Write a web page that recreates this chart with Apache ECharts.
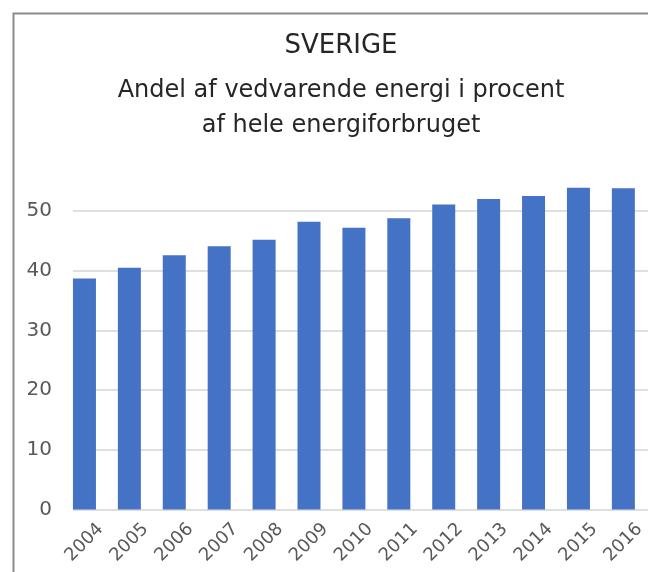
<!DOCTYPE html>
<html>
<head>
<meta charset="utf-8">
<script src="https://cdn.jsdelivr.net/npm/echarts@6/dist/echarts.min.js"></script>
<style>
  html, body { margin: 0; padding: 0; background: #fff; }
  #chart { width: 648px; height: 572px; }
</style>
</head>
<body>
<div id="chart"></div>
<script>
// data
const years = ["2004", "2005", "2006", "2007", "2008", "2009", "2010",
  "2011", "2012", "2013", "2014", "2015", "2016"];
const andel = [38.7, 40.5, 42.6, 44.1, 45.2, 48.2, 47.2, 48.8, 51.1, 52.0, 52.5, 53.9, 53.8];
const yTicks = [0, 10, 20, 30, 40, 50];

const font = "DejaVu Sans";
const chart = echarts.init(document.getElementById("chart"));

let option = {
  animation: false,
  title: [
    {
      text: "SVERIGE",
      left: 336,
      top: 26,
      textAlign: "center",
      textStyle: { fontFamily: font, fontSize: 26, fontWeight: "normal", color: "#262626", lineHeight: 30 }
    },
    {
      text: "Andel af vedvarende energi i procent\naf hele energiforbruget",
      left: 336,
      top: 68,
      textAlign: "center",
      textStyle: { fontFamily: font, fontSize: 24, fontWeight: "normal", color: "#262626", lineHeight: 35 }
    }
  ],
  // outer frame of the chart box
  graphic: [
    {
      type: "rect",
      left: 11,
      top: 11,
      shape: { width: 700, height: 700 },
      style: { fill: "none", stroke: "#8c8c8c", lineWidth: 2 },
      z: 10
    }
  ],
  grid: [
    // bars
    { left: 62, right: 1, top: 211, bottom: 62.5 },
    // gridlines (start at the first bar like the original)
    { left: 73, right: 0, top: 211, bottom: 62.5 }
  ],
  xAxis: [
    {
      type: "category",
      gridIndex: 0,
      data: years,
      axisLine: { show: false },
      axisTick: { show: false },
      axisLabel: {
        rotate: 45,
        align: "center",
        verticalAlign: "middle",
        margin: 33,
        fontFamily: font,
        fontSize: 18,
        color: "#595959"
      }
    },
    { type: "value", gridIndex: 1, min: 0, max: 1, show: false }
  ],
  yAxis: [
    {
      type: "value",
      gridIndex: 0,
      min: yTicks[0],
      max: yTicks[yTicks.length - 1],
      interval: 10,
      axisLine: { show: false },
      axisTick: { show: false },
      splitLine: { show: false },
      axisLabel: { margin: 10, fontFamily: font, fontSize: 20, color: "#595959" }
    },
    {
      type: "value",
      gridIndex: 1,
      min: yTicks[0],
      max: yTicks[yTicks.length - 1],
      interval: 10,
      axisLine: { show: false },
      axisTick: { show: false },
      axisLabel: { show: false },
      splitLine: { lineStyle: { color: "#d4d4d4", width: 1.5 } }
    }
  ],
  series: [
    {
      type: "bar",
      xAxisIndex: 0,
      yAxisIndex: 0,
      data: andel,
      barWidth: 23,
      clip: false,
      itemStyle: { color: "#4472c4" }
    }
  ]
};

chart.setOption(option);
</script>
</body>
</html>
